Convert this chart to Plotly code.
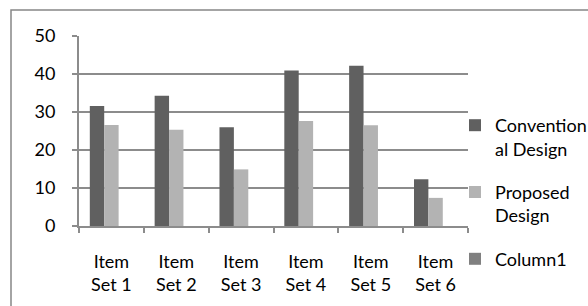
import plotly.graph_objects as go

categories = ["Item<br>Set 1", "Item<br>Set 2", "Item<br>Set 3", "Item<br>Set 4", "Item<br>Set 5", "Item<br>Set 6"]
conventional = [31.6, 34.3, 26.0, 40.9, 42.2, 12.3]
proposed = [26.6, 25.3, 14.9, 27.6, 26.5, 7.4]
column1 = [0, 0, 0, 0, 0, 0]
y_ticks = [0, 10, 20, 30, 40, 50]

FONT = "Lato"
FS = 18
fig = go.Figure()
fig.add_trace(go.Bar(x=categories, y=conventional, name="Convention<br>al Design",
                     marker=dict(color="#606060", line=dict(width=0)), legendgroup="a"))
fig.add_trace(go.Bar(x=categories, y=proposed, name="Proposed<br>Design",
                     marker=dict(color="#b3b3b3", line=dict(width=0)), legendgroup="b"))
fig.add_trace(go.Bar(x=categories, y=column1, name="Column1",
                     marker=dict(color="#808080", line=dict(width=0)), legendgroup="c"))

L, R, T, B = 79, 468, 36, 226
W, H = 588, 306

def px_x(p):
    return (p - L) / (R - L)

def px_y(p):
    return (B - p) / (B - T)

fig.update_layout(
    width=W, height=H,
    margin=dict(l=L, r=W - R, t=T, b=H - B, pad=0, autoexpand=False),
    paper_bgcolor="white", plot_bgcolor="white",
    barmode="group", bargap=1/3, bargroupgap=0,
    font=dict(family=FONT, size=FS, color="#000000"),
    showlegend=True,
    legend=dict(x=px_x(455), y=px_y(107), xanchor="left", yanchor="top",
                valign="top", tracegroupgap=17, traceorder="grouped",
                font=dict(family=FONT, size=FS, color="#000000"),
                bgcolor="rgba(0,0,0,0)", itemwidth=30),
    xaxis=dict(showline=True, linecolor="#8c8c8c", linewidth=2,
               ticks="outside", ticklen=5, tickcolor="#8c8c8c", tickwidth=2,
               tickson="boundaries", showgrid=False, ticklabelstandoff=18,
               automargin=False,
               tickfont=dict(family=FONT, size=FS, color="#000000")),
    yaxis=dict(range=[0, 50], tickvals=y_ticks, showline=True, linecolor="#8c8c8c",
               linewidth=2, ticks="outside", ticklen=5, tickcolor="#8c8c8c",
               tickwidth=2, showgrid=True, gridcolor="#8c8c8c", gridwidth=2,
               zeroline=False, ticklabelstandoff=13, automargin=False,
               tickfont=dict(family=FONT, size=FS, color="#000000")),
    shapes=[dict(type="rect", xref="paper", yref="paper",
                 x0=px_x(11), x1=px_x(620), y0=px_y(340), y1=px_y(10),
                 line=dict(color="#878787", width=1.5), layer="below")],
)

fig.write_html("out.html", config={"displayModeBar": False},
               post_script="document.body.style.margin='0px';")
